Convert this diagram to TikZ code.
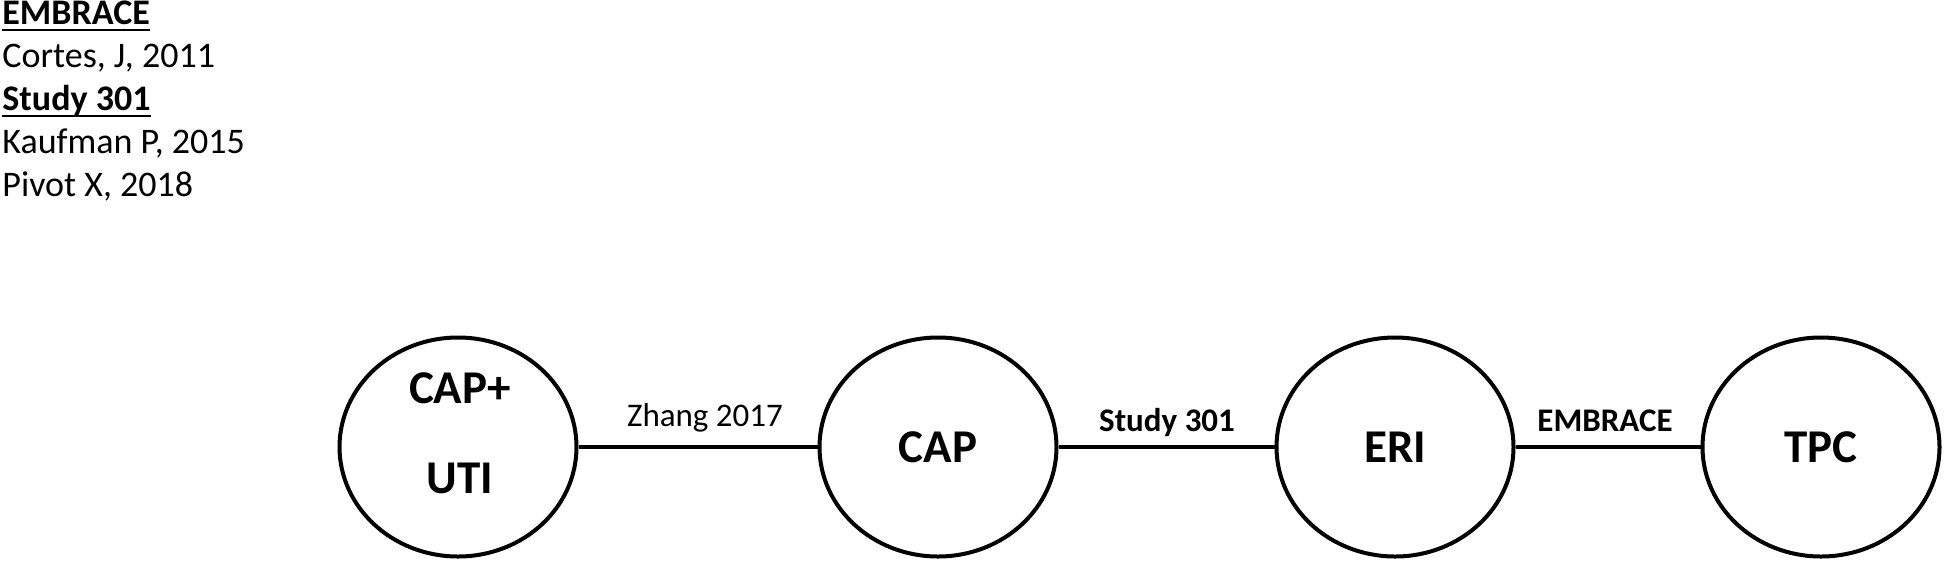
\documentclass[tikz,border=0pt]{standalone}
\usepackage{fontspec}
\setmainfont{Carlito}
\usetikzlibrary{shapes.geometric}
\begin{document}
\begin{tikzpicture}[x=0.5pt,y=-0.5pt,
  bubble/.style={ellipse, draw, line width=2pt, minimum width=118.5pt, minimum height=109.5pt, inner sep=0pt, font=\bfseries\fontsize{23.5}{28}\selectfont},
  bubbletext/.style={inner sep=0pt, align=center, font=\bfseries\fontsize{23.5}{45}\selectfont},
  link/.style={line width=1.6pt},
  lbl/.style={anchor=base, inner sep=0pt, font=\fontsize{16.5}{20}\selectfont},
  refline/.style={anchor=base west, inner sep=0pt, font=\fontsize{18}{22}\selectfont},
  uline/.style={line width=1pt}]
\useasboundingbox (0,0) rectangle (1946,563);
% reference list
\node[refline, font=\bfseries\fontsize{18}{22}\selectfont] (r1) at (2,24) {EMBRACE};
\node[refline] (r2) at (2,67) {Cortes, J, 2011};
\node[refline, font=\bfseries\fontsize{18}{22}\selectfont] (r3) at (2,110) {Study 301};
\node[refline] (r4) at (2,153) {Kaufman P, 2015};
\node[refline] (r5) at (2,196) {Pivot X, 2018};
\draw[uline] ([yshift=-3pt]r1.base west) -- ([yshift=-3pt]r1.base east);
\draw[uline] ([yshift=-3pt]r3.base west) -- ([yshift=-3pt]r3.base east);
% bubbles
\node[bubble] (e1) at (458,447) {};
\node[bubbletext] (t1) at (460,433) {CAP+\\UTI};
\node[bubble] (e2) at (938,447) {CAP};
\node[bubble] (e3) at (1395,447) {ERI};
\node[bubble] (e4) at (1821,447) {TPC};
% connectors
\draw[link] (e1) -- (e2);
\draw[link] (e2) -- (e3);
\draw[link] (e3) -- (e4);
% labels
\node[lbl] (l1) at (705,426) {Zhang 2017};
\node[lbl, font=\bfseries\fontsize{16.5}{20}\selectfont] (l2) at (1167,431) {Study 301};
\node[lbl, font=\bfseries\fontsize{16.5}{20}\selectfont] (l3) at (1605,431) {EMBRACE};
\end{tikzpicture}
\end{document}
